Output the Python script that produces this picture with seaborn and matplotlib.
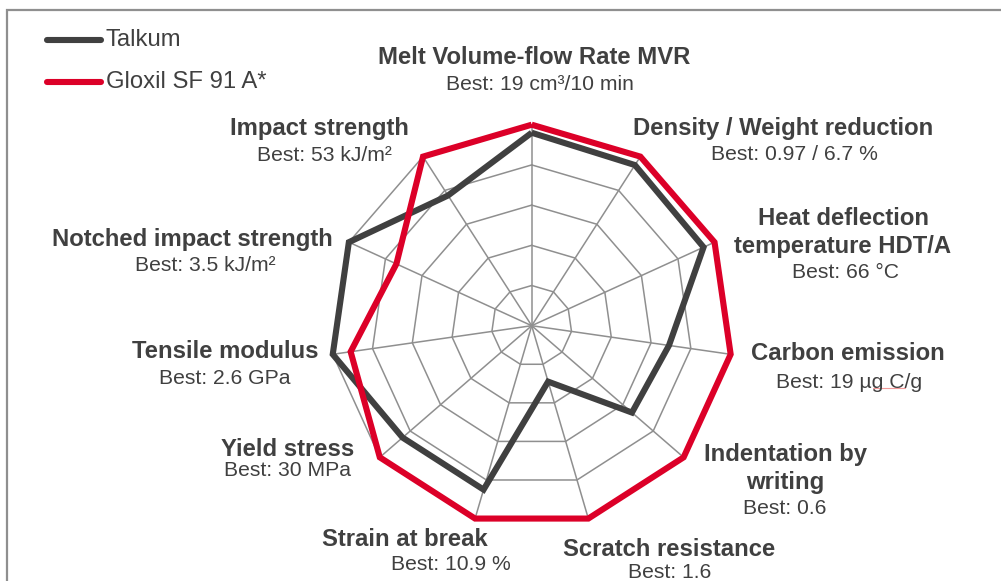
import matplotlib.pyplot as plt
import matplotlib.lines as mlines
import matplotlib.patches as mpatches
import numpy as np
import pandas as pd
import seaborn as sns

W, H = 1001, 581

categories = [
    "Melt Volume-flow Rate MVR",
    "Density / Weight reduction",
    "Heat deflection\ntemperature HDT/A",
    "Carbon emission",
    "Indentation by\nwriting",
    "Scratch resistance",
    "Strain at break",
    "Yield stress",
    "Tensile modulus",
    "Notched impact strength",
    "Impact strength",
]
best_labels = [
    "Best: 19 cm³/10 min",
    "Best: 0.97 / 6.7 %",
    "Best: 66 °C",
    "Best: 19 µg C/g",
    "Best: 0.6",
    "Best: 1.6",
    "Best: 10.9 %",
    "Best: 30 MPa",
    "Best: 2.6 GPa",
    "Best: 3.5 kJ/m²",
    "Best: 53 kJ/m²",
]
talkum = [0.96, 0.95, 0.94, 0.69, 0.66, 0.29, 0.85, 0.85, 1.0, 1.0, 0.77]
gloxil = [1.0, 1.0, 1.0, 1.0, 1.0, 1.0, 1.0, 1.0, 0.91, 0.74, 1.0]
series_names = ["Talkum", "Gloxil SF 91 A*"]
grid_levels = [0.2, 0.4, 0.6, 0.8, 1.0]

DARK = "#404040"
RED = "#DC0028"
GRID = "#8f8f8f"

# label layout in pixels: (x of title centre, y of first title line, x of "Best" centre, y of "Best")
label_pos = [
    (534, 58, 540, 85),
    (783, 128, 794, 154),
    (843, 218, 845, 272),
    (848, 354, 849, 382),
    (785, 454, 785, 508),
    (669, 549, 670, 573),
    (405, 540, 451, 565),
    (288, 450, 288, 471),
    (225, 352, 225, 379),
    (192, 240, 205, 266),
    (319, 128, 324, 155),
]

CX, CY, R = 531.7, 325.7, 201.0


def fx(px):
    return px / W


def fy(py):
    return 1 - py / H


def main() -> None:
    sns.set_theme(style="white")
    plt.rcParams["font.family"] = ["Liberation Sans", "DejaVu Sans"]

    n = len(categories)
    angles = np.arange(n) * 2 * np.pi / n

    rows = []
    for name, vals in zip(series_names, [talkum, gloxil]):
        for k in list(range(n)) + [0]:
            rows.append({"series": name, "order": len(rows),
                         "x": vals[k] * np.sin(angles[k]), "y": vals[k] * np.cos(angles[k])})
    df = pd.DataFrame(rows)

    fig = plt.figure(figsize=(W / 100, H / 100), dpi=100)
    ax = fig.add_axes([0, 0, 1, 1])
    ax.set_axis_off()

    # polygon grid + spokes
    for lvl in grid_levels:
        gx = [lvl * np.sin(a) for a in list(angles) + [angles[0]]]
        gy = [lvl * np.cos(a) for a in list(angles) + [angles[0]]]
        ax.plot(gx, gy, color=GRID, lw=1.1, zorder=1)
    for a in angles:
        ax.plot([0, np.sin(a)], [0, np.cos(a)], color=GRID, lw=1.1, zorder=1)

    sns.lineplot(data=df, x="x", y="y", hue="series", palette=[DARK, RED],
                 hue_order=series_names, sort=False, estimator=None, units="series",
                 lw=4.4, legend=False, ax=ax, zorder=3)
    for line in ax.lines[-2:]:
        line.set_solid_joinstyle("miter")
        line.set_solid_capstyle("butt")
    ax.set_xlim(-CX / R, (W - CX) / R)
    ax.set_ylim((CY - H) / R, CY / R)

    for cat, best, (tx, ty, bx, by) in zip(categories, best_labels, label_pos):
        for i, part in enumerate(cat.split("\n")):
            fig.text(fx(tx), fy(ty + i * 28), part, ha="center", va="center",
                     fontsize=17.2, fontweight="bold", color=DARK)
        fig.text(fx(bx), fy(by), best, ha="center", va="center", fontsize=15.2, color=DARK)

    # spell-check squiggle under "g C/g"
    fig.add_artist(mlines.Line2D([fx(873), fx(905)], [fy(388), fy(388)],
                                 color="#f08080", lw=0.8, alpha=0.8))

    # legend
    for name, color, py in zip(series_names, [DARK, RED], [40, 82]):
        fig.add_artist(mlines.Line2D([fx(47), fx(101)], [fy(py), fy(py)], color=color,
                                     lw=4.4, solid_capstyle="round"))
        fig.text(fx(106), fy(py), name, ha="left", va="center", fontsize=17.2, color=DARK)

    # chart frame
    fig.add_artist(mpatches.Rectangle((fx(7), fy(H + 20)), 1.2, fy(10) - fy(H + 20),
                                      fill=False, edgecolor=GRID, lw=1.6,
                                      transform=fig.transFigure))

    fig.savefig("out.png", dpi=100)
    plt.close(fig)


if __name__ == "__main__":
    main()
